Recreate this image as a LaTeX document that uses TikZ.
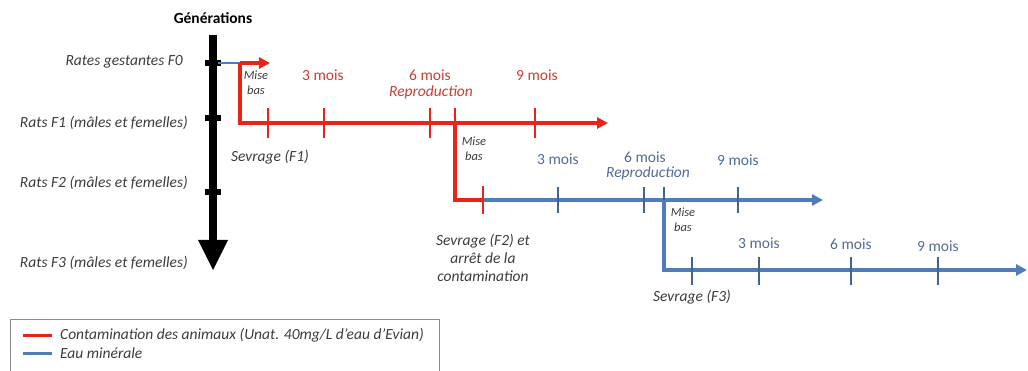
\documentclass[tikz,border=0pt]{standalone}
\usepackage{fontspec}
\setmainfont{Carlito}
\usetikzlibrary{arrows.meta}
\definecolor{cred}{RGB}{232,36,24}
\definecolor{cblue}{RGB}{79,125,185}
\definecolor{redtxt}{RGB}{200,62,52}
\definecolor{bluetxt}{RGB}{82,108,145}
\definecolor{graytxt}{RGB}{60,60,60}
\tikzset{
  redline/.style={draw=cred,line width=3.5pt,line join=miter},
  blueline/.style={draw=cblue,line width=3.5pt,line join=miter},
  redtick/.style={draw=cred,line width=1.8pt},
  bluetick/.style={draw=cblue!80!black,line width=1.8pt},
  tip/.style={-{Triangle[length=11pt,width=11pt]}},
  genlabel/.style={anchor=east,font=\fontsize{15.5}{18}\selectfont\itshape,text=graytxt,inner sep=0pt},
  smalllab/.style={font=\fontsize{12.5}{15}\selectfont\itshape,text=graytxt,align=center,inner sep=0pt},
  sevlab/.style={font=\fontsize{15.5}{18}\selectfont\itshape,text=graytxt,align=center,inner sep=0pt},
  redmois/.style={font=\fontsize{15.5}{18}\selectfont,text=redtxt,inner sep=0pt},
  bluemois/.style={font=\fontsize{15.5}{18}\selectfont,text=bluetxt,inner sep=0pt},
  gentick/.style={fill=black,minimum width=16pt,minimum height=6pt,inner sep=0pt},
  legtext/.style={anchor=west,font=\fontsize{15.5}{18}\selectfont\itshape,text=graytxt,inner sep=0pt},
}
\begin{document}
\begin{tikzpicture}[x=1pt,y=-1pt]
\useasboundingbox (0,0) rectangle (1028,371);
% title
\node[font=\fontsize{15.5}{18}\selectfont\bfseries,inner sep=0pt] (titre) at (213,18) {Générations};
% generation axis
\coordinate (ax0) at (213,35);
\coordinate (ax1) at (213,242);
\draw[line width=8pt] (ax0) -- (ax1);
\fill (198,240) -- (228,240) -- (213,270) -- cycle;
\node[gentick] (g0) at (213,63) {};
\node[gentick] (g1) at (213,118) {};
\node[gentick] (g2) at (213,192) {};
% generation labels
\node[genlabel] (l0) at (183,62) {Rates gestantes F0};
\node[genlabel] (l1) at (188,123) {Rats F1 (mâles et femelles)};
\node[genlabel] (l2) at (188,183) {Rats F2 (mâles et femelles)};
\node[genlabel] (l3) at (188,263) {Rats F3 (mâles et femelles)};
% coordinates
\coordinate (f0a) at (218,63);
\coordinate (f0b) at (240,63);
\coordinate (f0c) at (270,63);
\coordinate (f1a) at (240,123);
\coordinate (f1e) at (608,123);
\coordinate (f1r) at (455,123);
\coordinate (f2a) at (455,200);
\coordinate (f2s) at (483,200);
\coordinate (f2e) at (823,200);
\coordinate (f2r) at (664,200);
\coordinate (f3a) at (664,270);
\coordinate (f3e) at (1027,270);
% F0
\draw[draw=cblue,line width=2.5pt] (f0a) -- (f0b);
\draw[redline,tip] (f0b) -- (f0c);
% F1
\draw[redline,tip] (f0b) -- (f1a) -- (f1e);
\foreach \x in {268,324,430,455,535} \draw[redtick] (\x,108) -- (\x,138);
% F2
\draw[blueline,tip] (f2s) -- (f2e);
\draw[redline] (f1r) -- (f2a) -- (f2s);
\draw[redtick] (483,186) -- (483,214);
\foreach \x in {558,644,664,738} \draw[bluetick] (\x,187) -- (\x,213);
% F3
\draw[blueline,tip] (f2r) -- (f3a) -- (f3e);
\foreach \x in {692,759,851,938} \draw[bluetick] (\x,257) -- (\x,285);
% labels F1
\node[smalllab] (mb1) at (256,83) {Mise\\bas};
\node[redmois] (r3) at (323,75) {3 mois};
\node[redmois] (r6) at (430,75) {6 mois};
\node[redmois,font=\fontsize{15.5}{18}\selectfont\itshape] (rrep) at (431,92) {Reproduction};
\node[redmois] (r9) at (537,75) {9 mois};
\node[sevlab] (sev1) at (270,157) {Sevrage (F1)};
% labels F2
\node[smalllab] (mb2) at (474,149) {Mise\\bas};
\node[bluemois] (b3) at (558,159) {3 mois};
\node[bluemois] (b6) at (645,157) {6 mois};
\node[bluemois,font=\fontsize{15.5}{18}\selectfont\itshape] (brep) at (648,173) {Reproduction};
\node[bluemois] (b9) at (738,160) {9 mois};
\node[sevlab] (sev2) at (483,258) {Sevrage (F2) et\\arrêt de la\\contamination};
% labels F3
\node[smalllab] (mb3) at (683,220) {Mise\\bas};
\node[bluemois] (c3) at (759,243) {3 mois};
\node[bluemois] (c6) at (851,244) {6 mois};
\node[bluemois] (c9) at (938,246) {9 mois};
\node[sevlab] (sev3) at (692,297) {Sevrage (F3)};
% legend
\draw[draw=black!45,line width=0.8pt] (10,380) -- (10,319) -- (439,319) -- (439,380);
\coordinate (lr0) at (23,335);
\coordinate (lr1) at (52,335);
\coordinate (lb0) at (23,353);
\coordinate (lb1) at (52,353);
\draw[draw=cred,line width=3pt] (lr0) -- (lr1);
\draw[draw=cblue,line width=3pt] (lb0) -- (lb1);
\node[legtext] (leg1) at (60,335) {Contamination des animaux (Unat. 40mg/L d’eau d’Evian)};
\node[legtext] (leg2) at (60,353) {Eau minérale};
\end{tikzpicture}
\end{document}
